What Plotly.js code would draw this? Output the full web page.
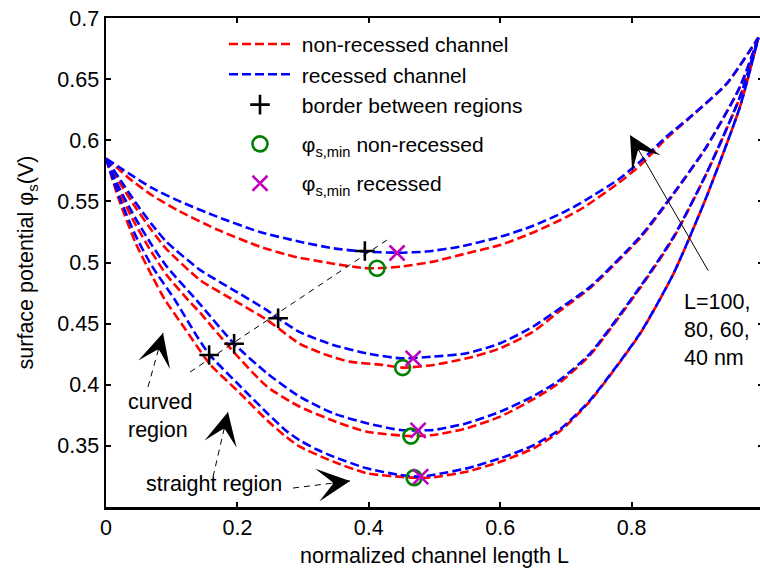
<!DOCTYPE html>
<html>
<head>
<meta charset="utf-8">
<script src="https://cdn.plot.ly/plotly-3.0.1.min.js"></script>
<style>
html,body{margin:0;padding:0;overflow:hidden;background:#fff;}
#chart{width:768px;height:568px;}
</style>
</head>
<body>
<div id="chart"></div>
<script>
// ---- data ----
const seriesNames = ['non-recessed channel', 'recessed channel', 'border between regions', 'φ<sub>s,min</sub> non-recessed', 'φ<sub>s,min</sub> recessed'];

// non-recessed channel (red), L = 100, 80, 60, 40 nm
const xR100 = [0, 0.02, 0.037, 0.07, 0.108, 0.169, 0.234, 0.285, 0.346, 0.392, 0.413, 0.448, 0.498, 0.549, 0.60, 0.65, 0.70, 0.727, 0.78, 0.813, 0.853, 0.889, 0.945, 0.993];
const yR100 = [0.585, 0.576, 0.568, 0.555, 0.543, 0.527, 0.513, 0.505, 0.499, 0.4955, 0.4953, 0.4966, 0.5007, 0.5075, 0.5143, 0.5245, 0.537, 0.545, 0.565, 0.5795, 0.6015, 0.6185, 0.6462, 0.684];
const xR80 = [0, 0.02, 0.045, 0.07, 0.092, 0.143, 0.194, 0.245, 0.295, 0.336, 0.371, 0.422, 0.4515, 0.498, 0.549, 0.60, 0.65, 0.691, 0.737, 0.813, 0.864, 0.914, 0.965, 0.993];
const yR80 = [0.585, 0.566, 0.545, 0.526, 0.511, 0.4857, 0.4693, 0.453, 0.4335, 0.4243, 0.4189, 0.4162, 0.414, 0.4162, 0.4216, 0.4298, 0.4434, 0.4605, 0.4792, 0.5200, 0.5560, 0.5945, 0.6436, 0.684];
const xR60 = [0, 0.02, 0.045, 0.07, 0.092, 0.125, 0.143, 0.194, 0.245, 0.295, 0.356, 0.397, 0.464, 0.498, 0.549, 0.60, 0.65, 0.691, 0.737, 0.813, 0.864, 0.914, 0.965, 0.993];
const yR60 = [0.585, 0.558, 0.531, 0.508, 0.490, 0.4693, 0.459, 0.427, 0.3985, 0.382, 0.3685, 0.3616, 0.358, 0.3589, 0.3644, 0.3739, 0.3880, 0.4020, 0.4245, 0.4792, 0.5203, 0.5727, 0.6354, 0.684];
const xR40 = [0, 0.02, 0.045, 0.07, 0.09, 0.12, 0.158, 0.204, 0.245, 0.275, 0.295, 0.346, 0.397, 0.469, 0.498, 0.549, 0.60, 0.65, 0.691, 0.737, 0.813, 0.864, 0.914, 0.965, 0.993];
const yR40 = [0.585, 0.551, 0.516, 0.489, 0.4693, 0.446, 0.417, 0.393, 0.371, 0.357, 0.3493, 0.3371, 0.3276, 0.324, 0.3243, 0.3289, 0.337, 0.3478, 0.3620, 0.3868, 0.4418, 0.4911, 0.5537, 0.6275, 0.684];

// recessed channel (blue), L = 100, 80, 60, 40 nm
const xB100 = [0, 0.02, 0.04, 0.07, 0.108, 0.169, 0.234, 0.295, 0.346, 0.392, 0.447, 0.488, 0.539, 0.60, 0.65, 0.70, 0.73, 0.78, 0.813, 0.853, 0.889, 0.945, 0.993];
const yB100 = [0.585, 0.578, 0.571, 0.561, 0.551, 0.5375, 0.525, 0.517, 0.5116, 0.509, 0.508, 0.509, 0.513, 0.521, 0.530, 0.542, 0.551, 0.568, 0.5825, 0.603, 0.619, 0.6466, 0.684];
const xB80 = [0, 0.02, 0.045, 0.07, 0.092, 0.143, 0.194, 0.245, 0.262, 0.295, 0.346, 0.397, 0.448, 0.498, 0.549, 0.60, 0.65, 0.691, 0.737, 0.813, 0.864, 0.914, 0.965, 0.993];
const yB80 = [0.585, 0.569, 0.549, 0.531, 0.517, 0.494, 0.4775, 0.461, 0.4544, 0.443, 0.4325, 0.4257, 0.4216, 0.423, 0.4257, 0.4339, 0.4475, 0.4625, 0.4802, 0.5211, 0.5566, 0.5947, 0.6438, 0.684];
const xB60 = [0, 0.02, 0.045, 0.07, 0.092, 0.143, 0.195, 0.245, 0.295, 0.346, 0.397, 0.448, 0.475, 0.498, 0.549, 0.60, 0.65, 0.691, 0.737, 0.813, 0.864, 0.914, 0.965, 0.993];
const yB60 = [0.585, 0.561, 0.536, 0.514, 0.497, 0.466, 0.4335, 0.4094, 0.3902, 0.3766, 0.3685, 0.363, 0.3627, 0.363, 0.3685, 0.378, 0.3905, 0.4040, 0.4257, 0.4802, 0.5211, 0.573, 0.6356, 0.684];
const xB40 = [0, 0.02, 0.045, 0.07, 0.105, 0.138, 0.158, 0.204, 0.245, 0.275, 0.295, 0.321, 0.346, 0.397, 0.448, 0.479, 0.498, 0.549, 0.60, 0.65, 0.691, 0.737, 0.813, 0.864, 0.914, 0.965, 0.993];
const yB40 = [0.585, 0.554, 0.522, 0.497, 0.4693, 0.440, 0.4243, 0.399, 0.377, 0.362, 0.3545, 0.347, 0.3412, 0.3316, 0.3262, 0.3248, 0.3262, 0.3316, 0.3398, 0.3503, 0.3635, 0.3875, 0.4421, 0.4912, 0.5538, 0.6275, 0.684];

// markers
const borderX = [0.157, 0.195, 0.262, 0.394];
const borderY = [0.4243, 0.4335, 0.4544, 0.5094];
const minNonX = [0.4125, 0.4515, 0.464, 0.469];
const minNonY = [0.4953, 0.414, 0.358, 0.324];
const minRecX = [0.443, 0.4675, 0.475, 0.479];
const minRecY = [0.5078, 0.4216, 0.3627, 0.3248];

// axis ticks
const xTickVals = [0, 0.2, 0.4, 0.6, 0.8, 1];
const xTickText = ['0', '0.2', '0.4', '0.6', '0.8', '1'];
const yTickVals = [0.35, 0.4, 0.45, 0.5, 0.55, 0.6, 0.65, 0.7];
const yTickText = ['0.35', '0.4', '0.45', '0.5', '0.55', '0.6', '0.65', '0.7'];

// annotation guide coordinates (data units)
const curvedArrow = {x0: 0.0639, y0: 0.3982, x1: 0.0868, y1: 0.4423};
const straightUpArrow = {x0: 0.1629, y0: 0.3246, x1: 0.1857, y1: 0.3777};
const straightRightArrow = {x0: 0.2846, y0: 0.3155, x1: 0.3714, y1: 0.3213};
const lArrow = {x0: 0.9178, y0: 0.4922, x1: 0.7976, y1: 0.6043};
const guideLine = {x0: 0.1279, y0: 0.4104, x1: 0.4277, y1: 0.5184};

// ---- drawing ----
const FONT = '"Liberation Sans", Arial, Helvetica, sans-serif';
const FS = 21.5;
const LFS = 21;
const RED = '#FF0000', BLUE = '#0000FF';
const DASH = '9px,4px';
const GAP = '\u00a0';

const reds = [[xR100, yR100], [xR80, yR80], [xR60, yR60], [xR40, yR40]];
const blues = [[xB100, yB100], [xB80, yB80], [xB60, yB60], [xB40, yB40]];
const traces = [];
reds.forEach((d, i) => traces.push({
  x: d[0], y: d[1], type: 'scatter', mode: 'lines',
  line: {color: RED, width: 2.6, dash: DASH, shape: 'spline', smoothing: 0.6},
  name: GAP + seriesNames[0], legendgroup: 'a', showlegend: i === 0, hoverinfo: 'skip'
}));
blues.forEach((d, i) => traces.push({
  x: d[0], y: d[1], type: 'scatter', mode: 'lines',
  line: {color: BLUE, width: 2.6, dash: DASH, shape: 'spline', smoothing: 0.6},
  name: GAP + seriesNames[1], legendgroup: 'a', showlegend: i === 0, hoverinfo: 'skip'
}));
traces.push({x: borderX, y: borderY, type: 'scatter', mode: 'markers', name: GAP + seriesNames[2], legendgroup: 'a',
  marker: {symbol: 'cross-thin-open', size: 14, color: '#000', line: {color: '#000', width: 2.6}}});
traces.push({x: minNonX, y: minNonY, type: 'scatter', mode: 'markers', name: GAP + seriesNames[3], legendgroup: 'b',
  marker: {symbol: 'circle-open', size: 15, color: '#008000', line: {color: '#008000', width: 2.6}}});
traces.push({x: minRecX, y: minRecY, type: 'scatter', mode: 'markers', name: GAP + seriesNames[4], legendgroup: 'c',
  marker: {symbol: 'x-thin-open', size: 15, color: '#C000C0', line: {color: '#C000C0', width: 2.6}}});

function dashedShape(a) {
  return {type: 'line', xref: 'x', yref: 'y', x0: a.x0, y0: a.y0, x1: a.x1, y1: a.y1,
    line: {color: '#000', width: 1, dash: '6px,5px'}};
}
function headAnn(a, frac) {
  return {x: a.x1, y: a.y1, ax: a.x1 - (a.x1 - a.x0) * frac, ay: a.y1 - (a.y1 - a.y0) * frac,
    xref: 'x', yref: 'y', axref: 'x', ayref: 'y', text: '', showarrow: true,
    arrowhead: 3, arrowsize: 5.5, arrowwidth: 1, arrowcolor: '#000', standoff: 0, startstandoff: 0};
}

const shapes = [
  dashedShape(curvedArrow), dashedShape(straightUpArrow), dashedShape(straightRightArrow), dashedShape(guideLine)
];
const annotations = [
  headAnn(curvedArrow, 0.25), headAnn(straightUpArrow, 0.25), headAnn(straightRightArrow, 0.2), headAnn(lArrow, 1),
  {x: 0.0304, y: 0.3744, xref: 'x', yref: 'y', xanchor: 'left', yanchor: 'middle', align: 'left', showarrow: false,
   text: 'curved<br>region', font: {family: FONT, size: FS, color: '#000'}},
  {x: 0.0585, y: 0.3188, xref: 'x', yref: 'y', xanchor: 'left', yanchor: 'middle', align: 'left', showarrow: false,
   text: 'straight region', font: {family: FONT, size: FS, color: '#000'}},
  {x: 0.877, y: 0.4448, xref: 'x', yref: 'y', xanchor: 'left', yanchor: 'middle', align: 'left', showarrow: false,
   text: 'L=100,<br>80, 60,<br>40 nm', font: {family: FONT, size: FS, color: '#000'}}
];

const axisCommon = {
  showgrid: false, zeroline: false, showline: true, linecolor: '#000', linewidth: 2.5, mirror: 'ticks',
  ticks: 'inside', ticklen: 5, tickwidth: 2, tickcolor: '#000',
  tickfont: {family: FONT, size: FS, color: '#000'}, tickmode: 'array'
};

const layout = {
  width: 768, height: 568,
  margin: {l: 106, r: 5, t: 18, b: 61},
  paper_bgcolor: '#fff', plot_bgcolor: '#fff',
  font: {family: FONT, size: FS, color: '#000'},
  xaxis: Object.assign({}, axisCommon, {range: [0, 1], tickvals: xTickVals, ticktext: xTickText,
    title: {text: 'normalized channel length L', font: {family: FONT, size: FS, color: '#000'}, standoff: 11}}),
  yaxis: Object.assign({}, axisCommon, {range: [0.3, 0.7], tickvals: yTickVals, ticktext: yTickText,
    title: {text: 'surface potential φ<sub>s</sub>(V)', font: {family: FONT, size: FS, color: '#000'}, standoff: 18}}),
  showlegend: true,
  legend: {x: 0.1796, y: 0.988, xanchor: 'left', yanchor: 'top', bgcolor: 'rgba(0,0,0,0)', borderwidth: 0,
    font: {family: FONT, size: LFS, color: '#000'}, itemwidth: 62, traceorder: 'grouped', tracegroupgap: 9},
  shapes: shapes, annotations: annotations
};

Plotly.newPlot('chart', traces, layout, {staticPlot: true, displayModeBar: false});
</script>
</body>
</html>
